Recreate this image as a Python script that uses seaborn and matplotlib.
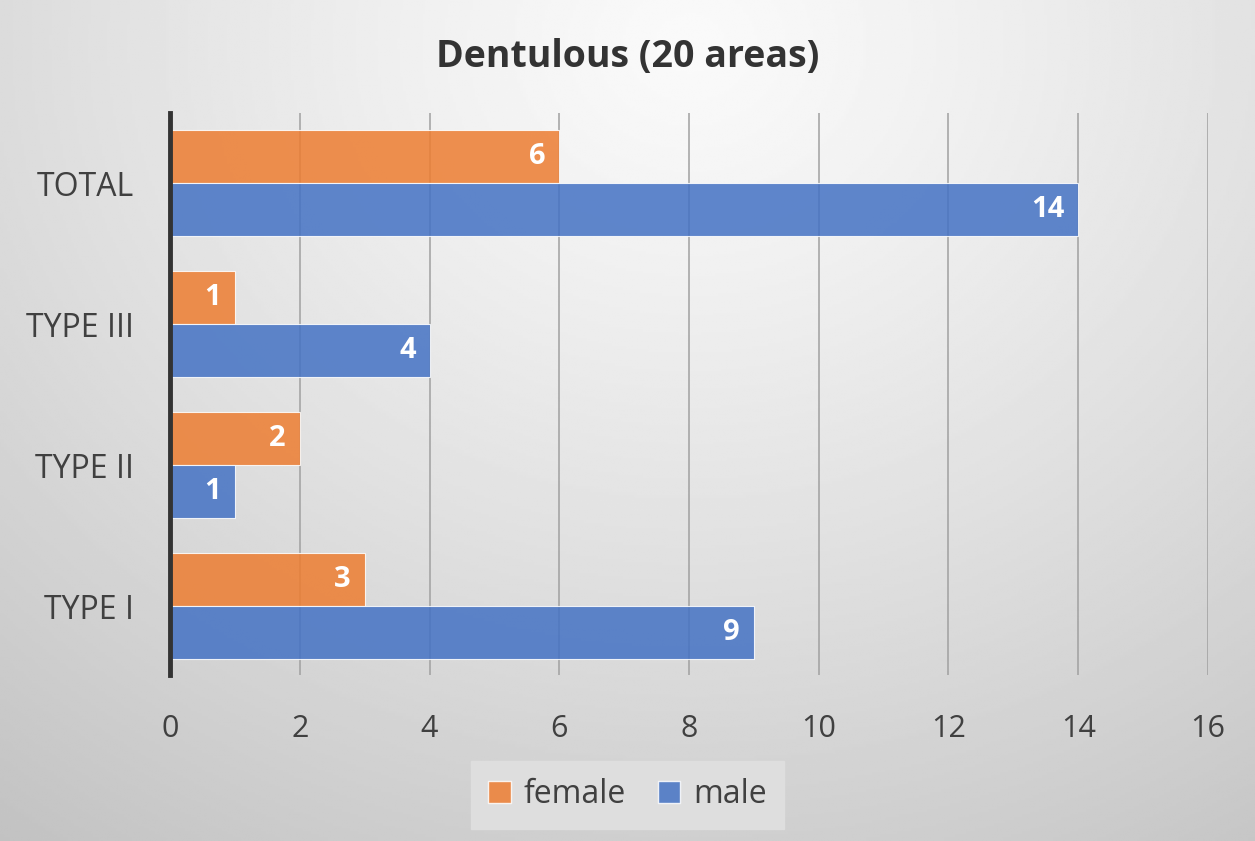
import numpy as np
import pandas as pd
import matplotlib
matplotlib.use('Agg')
import matplotlib.pyplot as plt
import seaborn as sns

# data
categories = ['TOTAL', 'TYPE III', 'TYPE II', 'TYPE I']
female = [6, 1, 2, 3]
male = [14, 4, 1, 9]
x_ticks = [0, 2, 4, 6, 8, 10, 12, 14, 16]

df = pd.DataFrame({
    'category': categories * 2,
    'count': female + male,
    'sex': ['female'] * len(categories) + ['male'] * len(categories),
})

sns.set_theme(style='white')
plt.rcParams['font.family'] = ['Open Sans', 'DejaVu Sans']

fig = plt.figure(figsize=(12.55, 8.41), dpi=100)

# radial gradient background, light at the top centre
bg = fig.add_axes([0, 0, 1, 1], zorder=-10)
yy, xx = np.mgrid[0:1:300j, 0:1:450j]
r = np.sqrt(((xx - 0.55) / 0.85) ** 2 + ((yy - 0.05) / 1.1) ** 2)
shade = 0.98 - 0.2 * r ** 1.2
bg.imshow(shade, cmap='gray', vmin=0, vmax=1, aspect='auto', extent=[0, 1, 1, 0])
bg.set_axis_off()

ax = fig.add_axes([0.1355, 0.197, 0.827, 0.669])
ax.patch.set_alpha(0)
palette = {'female': '#ED7D31', 'male': '#4472C4'}
sns.barplot(data=df, x='count', y='category', hue='sex', order=categories,
            hue_order=['female', 'male'], palette=palette, orient='h',
            width=0.75, alpha=0.85, edgecolor='white', linewidth=0.8,
            saturation=1, ax=ax, zorder=3)

# value labels inside the bar ends
for cont in ax.containers:
    for patch in cont:
        ax.annotate(f'{patch.get_width():g}',
                    (patch.get_width(), patch.get_y() + patch.get_height() / 2),
                    xytext=(-10, 0), textcoords='offset points',
                    ha='right', va='center', color='white', fontsize=21,
                    fontweight='bold', zorder=6)

ax.set_xlim(0, 16)
ax.set_ylim(3.49, -0.5)
ax.set_xticks(x_ticks)
ax.set_xticklabels([str(t) for t in x_ticks])
ax.xaxis.grid(True, color='#a0a0a0', linewidth=1.1, zorder=1)
ax.set_axisbelow(True)
ax.tick_params(axis='x', labelsize=22, colors='#404040', pad=28, length=0)
ax.tick_params(axis='y', labelsize=23, colors='#404040', pad=26, length=0)
ax.set_xlabel('')
ax.set_ylabel('')
for s in ['top', 'right', 'bottom']:
    ax.spines[s].set_visible(False)
ax.spines['left'].set_color('#333333')
ax.spines['left'].set_linewidth(3.5)
ax.spines['left'].set_zorder(5)

fig.text(0.5, 0.932, 'Dentulous (20 areas)', ha='center', va='center',
         fontsize=27, fontweight='bold', color='#333333')

ax.get_legend().remove()
handles = [plt.Rectangle((0, 0), 1, 1, facecolor=palette[k], alpha=0.85,
                         edgecolor='white') for k in ['female', 'male']]
leg = fig.legend(handles, ['female', 'male'], loc='center',
                 bbox_to_anchor=(0.5, 0.055), ncol=2, fontsize=23,
                 frameon=True, handlelength=0.7, handleheight=0.7,
                 handletextpad=0.4, columnspacing=1.0, borderpad=0.55)
leg.get_frame().set_facecolor('#dedede')
leg.get_frame().set_edgecolor('#dedede')
leg.get_frame().set_alpha(1)
leg.get_frame().set_boxstyle('square', pad=0)
for t in leg.get_texts():
    t.set_color('#404040')

fig.savefig('out.png', dpi=100)
